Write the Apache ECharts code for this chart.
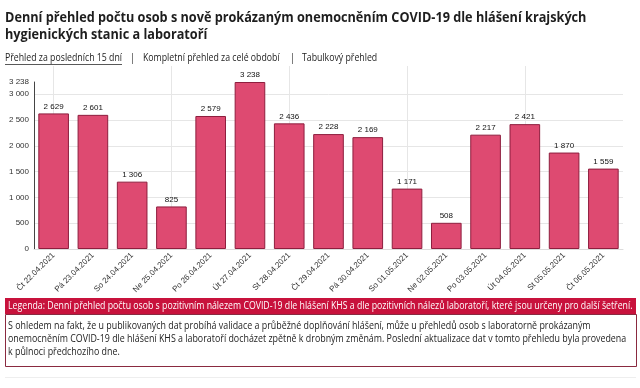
<!DOCTYPE html>
<html><head><meta charset="utf-8">
<script src="https://cdn.jsdelivr.net/npm/echarts@6/dist/echarts.min.js"></script>
<style>html,body{margin:0;padding:0;background:#fff}#c{width:640px;height:388px}</style>
</head><body><div id="c"></div>
<script>
const categories = ["Čt 22.04.2021","Pá 23.04.2021","So 24.04.2021","Ne 25.04.2021","Po 26.04.2021","Út 27.04.2021","St 28.04.2021","Čt 29.04.2021","Pá 30.04.2021","So 01.05.2021","Ne 02.05.2021","Po 03.05.2021","Út 04.05.2021","St 05.05.2021","Čt 06.05.2021"];
const values = [2629,2601,1306,825,2579,3238,2436,2228,2169,1171,508,2217,2421,1870,1559];
const yMax = 3238;
const yStep = 500;
const titleLines = ["Denní přehled počtu osob s nově prokázaným onemocněním COVID-19 dle hlášení krajských","hygienických stanic a laboratoří"];
const navItems = ["Přehled za posledních 15 dní","Kompletní přehled za celé období","Tabulkový přehled"];
const legendText = "Legenda: Denní přehled počtu osob s pozitivním nálezem COVID-19 dle hlášení KHS a dle pozitivních nálezů laboratoří, které jsou určeny pro další šetření.";
const noteLines = ["S ohledem na fakt, že u publikovaných dat probíhá validace a průběžné doplňování hlášení, může u přehledů osob s laboratorně prokázaným","onemocněním COVID-19 dle hlášení KHS a laboratoří docházet zpětně k drobným změnám. Poslední aktualizace dat v tomto přehledu byla provedena","k půlnoci předchozího dne."];

const fmt = v => String(v).replace(/\B(?=(\d{3})+(?!\d))/g, ' ');
const chart = echarts.init(document.getElementById('c'), null, {renderer:'canvas'});
const L = 34, R = 17, B = 139;
const half = (640 - L - R) / categories.length / 2;
const font = '"Open Sans", sans-serif';
function txt(x, y, s, f, fill, sx) {
  return {type:'text', x:x, y:y, scaleX:sx || 0.875, style:{text:s, font:f, fill:fill, textVerticalAlign:'middle'}};
}
chart.setOption({
  animation:false,
  grid:[
    {left:L, right:R, top:82, bottom:B},
    {left:L+half, right:R+half, top:66, bottom:B}
  ],
  xAxis:[
    {type:'category', gridIndex:0, data:categories,
     axisLine:{lineStyle:{color:'#dcdcdc'}}, axisTick:{show:false},
     axisLabel:{rotate:45, fontSize:8, color:'#333', fontFamily:'"Liberation Sans", Arial', margin:5, interval:0}},
    {type:'category', gridIndex:1, data:categories, boundaryGap:false,
     axisLine:{show:false}, axisTick:{show:false}, axisLabel:{show:false},
     splitLine:{show:true, lineStyle:{color:'#e6e6e6', width:1}}}
  ],
  yAxis:[
    {type:'value', gridIndex:0, min:0, max:yMax, interval:yStep,
     axisLine:{show:true, lineStyle:{color:'#444'}}, axisTick:{show:false},
     axisLabel:{fontSize:8, color:'#333', fontFamily:'"Liberation Sans", Arial', margin:5, formatter:fmt},
     splitLine:{show:true, showMaxLine:false, lineStyle:{color:'#e6e6e6'}}},
    {type:'value', gridIndex:1, show:false, min:0, max:1, splitLine:{show:false}}
  ],
  series:[
    {type:'bar', xAxisIndex:0, yAxisIndex:0, data:values, barCategoryGap:'22%',
     itemStyle:{color:'#de4a71', borderColor:'#8e1e3e', borderWidth:1},
     label:{show:true, position:'top', distance:3, fontSize:8, color:'#111', fontFamily:'"Liberation Sans", Arial', formatter:p=>fmt(p.value)}}
  ],
  graphic:[
    txt(5, 18, titleLines[0], 'bold 14px '+font, '#1e1e1e', 0.906),
    txt(5, 35, titleLines[1], 'bold 14px '+font, '#1e1e1e', 0.906),
    txt(5, 58, navItems[0], '10px '+font, '#222'),
    {type:'rect', left:5, top:64, shape:{width:117, height:0.8}, style:{fill:'#222'}},
    txt(130, 58, '|', '10px '+font, '#222'),
    txt(143, 58, navItems[1], '10px '+font, '#222'),
    txt(290, 58, '|', '10px '+font, '#222'),
    txt(302, 58, navItems[2], '10px '+font, '#222'),
    {type:'rect', left:5, top:298, shape:{width:631, height:16}, style:{fill:'#c8123c'}},
    txt(8, 306, legendText, '10px '+font, '#fff'),
    {type:'rect', left:5, top:314, shape:{width:631, height:52}, style:{fill:'#fff', stroke:'#8a2a40', lineWidth:1}},
    txt(8, 326, noteLines[0], '10px '+font, '#222', 0.887),
    txt(8, 339, noteLines[1], '10px '+font, '#222', 0.887),
    txt(8, 352, noteLines[2], '10px '+font, '#222', 0.887),
    {type:'rect', left:5, top:377, shape:{width:631, height:1}, style:{fill:'#eeeeee'}}
  ]
});
</script></body></html>
